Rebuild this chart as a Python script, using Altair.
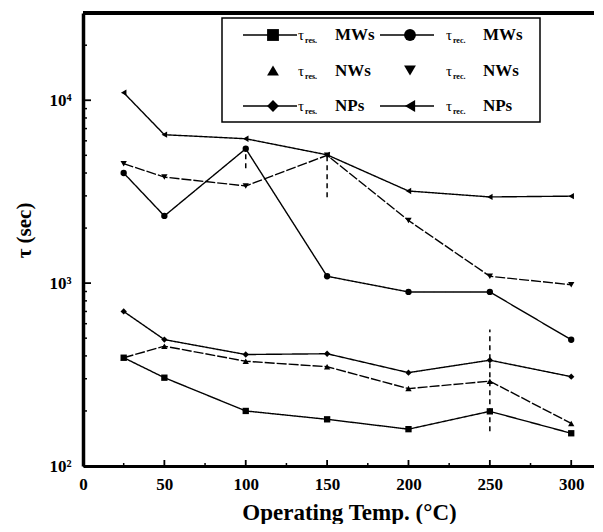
import altair as alt
import pandas as pd

# ---------------- data ----------------
temps = [25, 50, 100, 150, 200, 250, 300]

res_mw = [391, 304, 200, 180, 159, 199, 151]
rec_mw = [4000, 2330, 5430, 1090, 895, 895, 490]
res_nw = [391, 452, 374, 349, 265, 291, 171]
rec_nw = [4500, 3800, 3400, 5000, 2200, 1090, 980]
res_np = [700, 491, 407, 411, 324, 379, 308]
rec_np = [11000, 6480, 6160, 5030, 3190, 2960, 2990]

series_names = ["res MWs", "rec MWs", "res NWs", "rec NWs", "res NPs", "rec NPs"]
series_sub = ["res.", "rec.", "res.", "rec.", "res.", "rec."]
series_mat = ["MWs", "MWs", "NWs", "NWs", "NPs", "NPs"]
series_shapes = ["square", "circle", "triangle-up", "triangle-down", "diamond", "triangle-left"]
series_dash = [[1, 0], [1, 0], [10, 2], [10, 2], [1, 0], [1, 0]]

err_x = [100, 150, 250]
err_lo = [4245, 2950, 155]
err_hi = [5430, 5000, 557]

x_major = [0, 50, 100, 150, 200, 250, 300]
x_minor = [25, 75, 125, 175, 225, 275]
y_major = [100, 1000, 10000]
y_minor = [200, 300, 400, 500, 600, 700, 800, 900,
           2000, 3000, 4000, 5000, 6000, 7000, 8000, 9000, 20000]

# ---------------- tables ----------------
rows = []
for name, vals in zip(series_names, [res_mw, rec_mw, res_nw, rec_nw, res_np, rec_np]):
    for t, v in zip(temps, vals):
        rows.append({"series": name, "temp": t, "tau": v})
df = pd.DataFrame(rows)

err_df = pd.DataFrame({"temp": err_x, "tau": err_lo, "tau2": err_hi})
leg_df = pd.DataFrame({"series": series_names, "sub": series_sub,
                       "mat": series_mat, "i": list(range(6))})

W, H = 511, 453
FONT = "Liberation Serif"

xscale = alt.Scale(domain=[0, 314], nice=False)
yscale = alt.Scale(type="log", domain=[100, 30000], nice=False)
shape_scale = alt.Scale(domain=series_names, range=series_shapes)

xaxis = alt.Axis(values=x_major, ticks=False, grid=False, domainWidth=3,
                 domainColor="black", labelFont=FONT, labelFontSize=17,
                 labelFontWeight="bold", labelColor="black", labelPadding=10,
                 labelFlush=False, title="Operating Temp. (°C)", titleFont=FONT,
                 titleFontSize=23, titleFontWeight="bold", titleColor="black",
                 titleX=266, titleY=46, titleBaseline="middle", titleAlign="center")
yaxis = alt.Axis(values=y_major, ticks=False, grid=False, domainWidth=3.5,
                 domainColor="black", labelFont=FONT, labelFontSize=17,
                 labelFontWeight="bold", labelColor="black", labelPadding=12,
                 labelExpr="datum.value == 100 ? '10²' : (datum.value == 1000 ? '10³' : '10⁴')",
                 title="τ (sec)", titleFont=FONT, titleFontSize=21,
                 titleFontWeight="bold", titleColor="black", titleAngle=270,
                 titleX=-59, titleY=217, titleBaseline="middle", titleAlign="center")

X = alt.X("temp:Q", scale=xscale, axis=xaxis)
Y = alt.Y("tau:Q", scale=yscale, axis=yaxis)

lines = alt.Chart(df).mark_line(color="black", strokeWidth=1.4).encode(
    x=X, y=Y, detail="series:N",
    strokeDash=alt.StrokeDash("series:N", scale=alt.Scale(domain=series_names, range=series_dash), legend=None),
)
points = alt.Chart(df).mark_point(filled=True, color="black", size=40, opacity=1).encode(
    x=X, y=Y, shape=alt.Shape("series:N", scale=shape_scale, legend=None)
)
errs = alt.Chart(err_df).mark_rule(color="black", strokeWidth=1.5, strokeDash=[5, 4]).encode(
    x=X, y=Y, y2="tau2:Q"
)

xt_major = alt.Chart(pd.DataFrame({"temp": x_major})).mark_rule(color="black", strokeWidth=1.8).encode(
    x=X, y=alt.value(H), y2=alt.value(H - 6))
xt_minor = alt.Chart(pd.DataFrame({"temp": x_minor})).mark_rule(color="black", strokeWidth=1.5).encode(
    x=X, y=alt.value(H), y2=alt.value(H - 3))
yt_major = alt.Chart(pd.DataFrame({"tau": y_major})).mark_rule(color="black", strokeWidth=1.8).encode(
    y=Y, x=alt.value(0), x2=alt.value(8))
yt_minor = alt.Chart(pd.DataFrame({"tau": y_minor})).mark_rule(color="black", strokeWidth=1.5).encode(
    y=Y, x=alt.value(0), x2=alt.value(4))
frame = alt.Chart(pd.DataFrame({"tau": [30000]})).mark_rule(color="black", strokeWidth=4).encode(
    y=Y, x=alt.value(0), x2=alt.value(W))

data_layer = alt.layer(errs, lines, points, xt_major, xt_minor, yt_major, yt_minor, frame)

# ---------------- legend ----------------
leg_base = alt.Chart(leg_df).transform_calculate(
    col="datum.i % 2", row="floor(datum.i / 2)", tcol="(datum.i % 2) * 1.08")
LX = alt.X("col:Q", scale=alt.Scale(domain=[0, 1], range=[190, 327]), axis=None)
TX = alt.X("tcol:Q", axis=None)
LY = alt.Y("row:Q", scale=alt.Scale(domain=[0, 2], range=[22, 93]), axis=None)

leg_box = alt.Chart(pd.DataFrame({"a": [0]})).mark_rect(fill="white", stroke="black", strokeWidth=1.5).encode(
    x=alt.value(139), x2=alt.value(457), y=alt.value(5), y2=alt.value(109))
leg_lines = leg_base.transform_filter("datum.mat != 'NWs'").mark_rule(
    color="black", strokeWidth=1.5, xOffset=-30, x2Offset=24).encode(x=LX, x2="col:Q", y=LY)
leg_pts = leg_base.mark_point(filled=True, color="black", size=140, opacity=1).encode(
    x=LX, y=LY, shape=alt.Shape("series:N", scale=shape_scale, legend=None))
leg_tau = leg_base.mark_text(text="τ", align="left", baseline="middle", dx=25, font=FONT,
                             fontSize=15, color="black").encode(x=TX, y=LY)
leg_sub = leg_base.mark_text(align="left", baseline="middle", dx=32, dy=6, font=FONT,
                             fontSize=8, fontWeight="bold", color="black").encode(x=TX, y=LY, text="sub:N")
leg_mat = leg_base.mark_text(align="left", baseline="middle", dx=62, font=FONT,
                             fontSize=17, fontWeight="bold", color="black").encode(x=TX, y=LY, text="mat:N")

legend_layer = alt.layer(leg_box, leg_lines, leg_pts, leg_tau, leg_sub, leg_mat)

chart = alt.layer(data_layer, legend_layer).resolve_scale(
    x="independent", y="independent"
).properties(
    width=W, height=H,
    autosize=alt.AutoSizeParams(type="none"),
    padding={"left": 75, "top": 5, "right": 0, "bottom": 58},
).configure_view(stroke=None)

chart.save("out.html", embed_options={"renderer": "svg", "actions": False})
